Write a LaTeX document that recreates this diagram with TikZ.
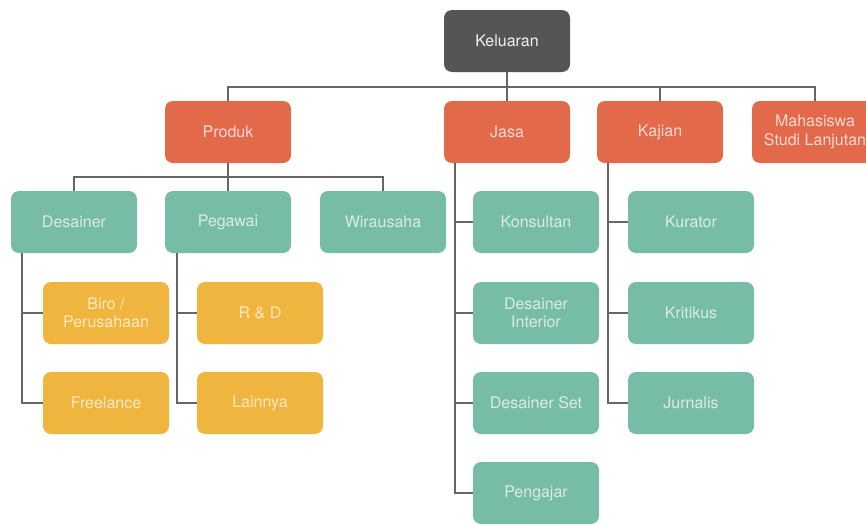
\documentclass[tikz,border=0pt]{standalone}
\usepackage{fontspec}
\setmainfont{TeX Gyre Heros}
\definecolor{abu}{HTML}{555555}
\definecolor{oranye}{HTML}{E2694A}
\definecolor{hijau}{HTML}{77BCA6}
\definecolor{kuning}{HTML}{F0B53E}
\definecolor{garis}{HTML}{666666}
\tikzset{
  kotak/.style={rectangle,rounded corners=8pt,minimum width=126pt,minimum height=62pt,
                inner sep=0pt,align=center,font=\fontsize{16}{18.5}\selectfont},
  puncak/.style={kotak,fill=abu,text=white!92!abu},
  utama/.style={kotak,fill=oranye,text=white!75!oranye},
  cabang/.style={kotak,fill=hijau,text=white!72!hijau},
  rinci/.style={kotak,fill=kuning,text=white!70!kuning},
  hubung/.style={draw=garis,line width=2pt}
}
\begin{document}
\begin{tikzpicture}[x=1pt,y=-1pt]
\useasboundingbox (0,0) rectangle (866,525);
\clip (0,0) rectangle (866,525);

\node [puncak] (kel)       at (507, 41) {Keluaran};

\node [utama]  (produk)    at (228,132) {Produk};
\node [utama]  (jasa)      at (507,132) {Jasa};
\node [utama]  (kajian)    at (660,132) {Kajian};
\node [utama]  (mhs)       at (815,132) {Mahasiswa\\Studi Lanjutan};

\node [cabang] (desainer)  at ( 74,222) {Desainer};
\node [cabang] (pegawai)   at (228,222) {Pegawai};
\node [cabang] (wira)      at (383,222) {Wirausaha};
\node [rinci]  (biro)      at (106,313) {Biro /\\Perusahaan};
\node [rinci]  (freelance) at (106,403) {Freelance};
\node [rinci]  (rnd)       at (260,313) {R \& D};
\node [rinci]  (lainnya)   at (260,403) {Lainnya};

\node [cabang] (konsultan) at (536,222) {Konsultan};
\node [cabang] (interior)  at (536,313) {Desainer\\Interior};
\node [cabang] (dset)      at (536,403) {Desainer Set};
\node [cabang] (pengajar)  at (536,493) {Pengajar};

\node [cabang] (kurator)   at (691,222) {Kurator};
\node [cabang] (kritikus)  at (691,313) {Kritikus};
\node [cabang] (jurnalis)  at (691,403) {Jurnalis};

% garis antar tingkat
\coordinate (busatas)   at (507, 87);
\coordinate (busproduk) at (228,177);
\draw [hubung] (produk.north) |- (busatas) -| (mhs.north);
\draw [hubung] (kel.south) -- (jasa.north);
\draw [hubung] (busatas -| kajian.north) -- (kajian.north);
\draw [hubung] (desainer.north) |- (busproduk) -| (wira.north);
\draw [hubung] (produk.south) -- (pegawai.north);

% garis samping
\coordinate (gdesainer) at ([xshift=11pt]desainer.south west);
\coordinate (gpegawai)  at ([xshift=12pt]pegawai.south west);
\coordinate (gjasa)     at ([xshift=11pt]jasa.south west);
\coordinate (gkajian)   at ([xshift=11pt]kajian.south west);
\draw [hubung] (gdesainer) |- (freelance.west);
\draw [hubung] (biro.west) -- (biro.west -| gdesainer);
\draw [hubung] (gpegawai) |- (lainnya.west);
\draw [hubung] (rnd.west) -- (rnd.west -| gpegawai);
\draw [hubung] (gjasa) |- (pengajar.west);
\foreach \n in {konsultan,interior,dset}
  \draw [hubung] (\n.west) -- (\n.west -| gjasa);
\draw [hubung] (gkajian) |- (jurnalis.west);
\foreach \n in {kurator,kritikus}
  \draw [hubung] (\n.west) -- (\n.west -| gkajian);
\end{tikzpicture}
\end{document}
